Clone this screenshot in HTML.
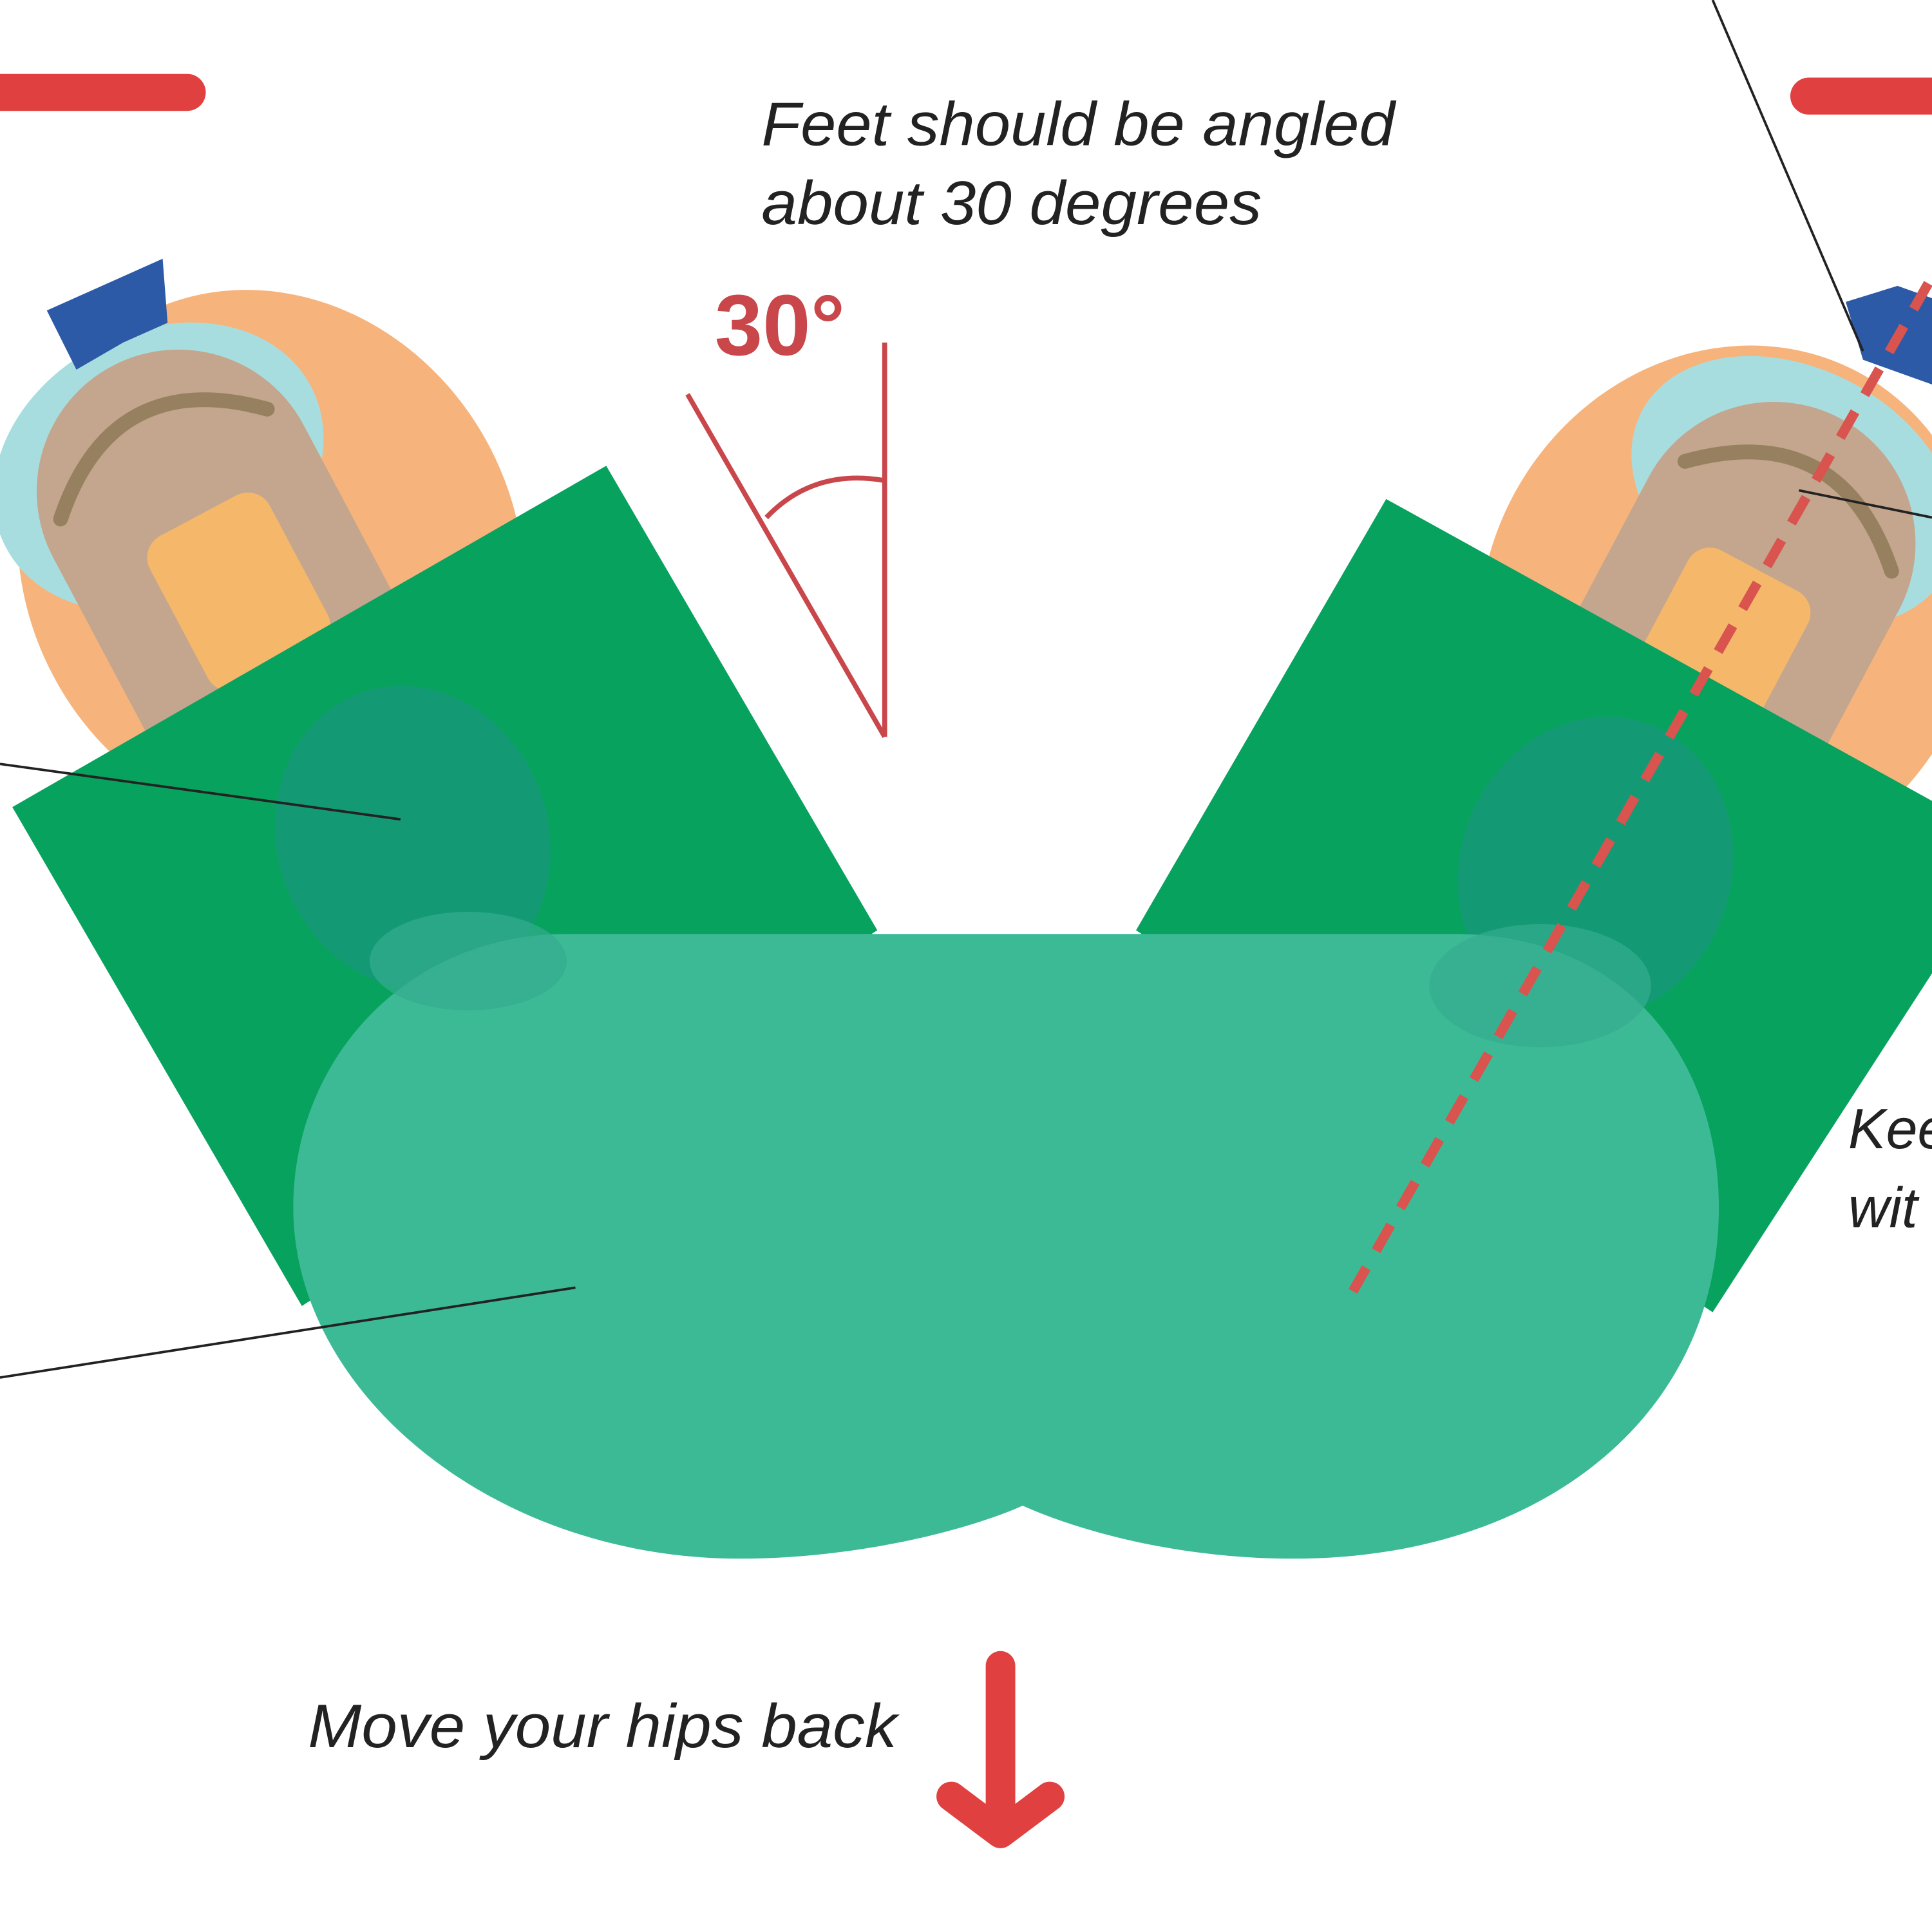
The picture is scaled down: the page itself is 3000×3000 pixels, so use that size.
<!DOCTYPE html>
<html><head><style>html,body{margin:0;padding:0;background:#fff}svg{display:block}</style></head>
<body>
<svg width="3000" height="3000" viewBox="0 0 1568 1568" xmlns="http://www.w3.org/2000/svg">
<rect width="1568" height="1568" fill="#fff"/>
<line x1="0" y1="75" x2="152" y2="75" stroke="#e0403f" stroke-width="30" stroke-linecap="round"/>
<line x1="1468" y1="78" x2="1580" y2="78" stroke="#e0403f" stroke-width="30" stroke-linecap="round"/>

<!-- left foot -->
<g transform="translate(0,25) rotate(-28 220 430)">
  <ellipse cx="220" cy="430" rx="200" ry="225" fill="#f6b47c"/>
  <ellipse cx="175" cy="320" rx="140" ry="110" fill="#a8dde0"/>
  <rect x="65" y="230" width="230" height="420" rx="115" fill="#c3a68d"/>
  <path d="M85 320 Q180 230 275 320" fill="none" stroke="#97805f" stroke-width="12" stroke-linecap="round"/>
  <rect x="130" y="370" width="110" height="140" rx="20" fill="#f5b86a"/>
  <rect x="135" y="525" width="100" height="70" rx="15" fill="#4fa85a"/>
</g>
<path d="M38 252 L132 210 L136 262 L100 278 L62 300 Z" fill="#2d5aa6"/>

<!-- right foot -->
<g transform="translate(0,45) rotate(28 1400 460)">
  <ellipse cx="1400" cy="450" rx="200" ry="220" fill="#f6b47c"/>
  <ellipse cx="1400" cy="340" rx="140" ry="100" fill="#a8dde0"/>
  <rect x="1290" y="270" width="230" height="410" rx="115" fill="#c3a68d"/>
  <path d="M1310 360 Q1405 270 1500 360" fill="none" stroke="#97805f" stroke-width="12" stroke-linecap="round"/>
  <rect x="1350" y="410" width="110" height="140" rx="20" fill="#f5b86a"/>
  <rect x="1355" y="560" width="100" height="70" rx="15" fill="#4fa85a"/>
</g>
<path d="M1498 245 L1540 232 L1568 242 L1568 312 L1512 292 Z" fill="#2d5aa6"/>

<!-- legs -->
<polygon points="10,655 492,378 712,755 245,1060" fill="#08a25f"/>
<polygon points="1125,405 1568,650 1568,790 1390,1065 922,755" fill="#08a25f"/>
<ellipse cx="335" cy="680" rx="110" ry="125" transform="rotate(-20 335 680)" fill="#17997a" opacity="0.8"/>
<ellipse cx="1295" cy="705" rx="110" ry="125" transform="rotate(20 1295 705)" fill="#17997a" opacity="0.8"/>

<!-- body -->
<path d="M460,758 L1180,758 C1320,758 1395,860 1395,980 C1395,1150 1250,1265 1050,1265 C950,1265 870,1240 830,1222 C790,1240 700,1265 600,1265 C400,1265 238,1130 238,980 C238,860 330,758 460,758 Z" fill="#3cba96"/>
<ellipse cx="380" cy="780" rx="80" ry="40" fill="#35ad8f" opacity="0.7"/>
<ellipse cx="1250" cy="800" rx="90" ry="50" fill="#35ad8f" opacity="0.7"/>

<line x1="1565" y1="230" x2="1098" y2="1048" stroke="#d9534f" stroke-width="8" stroke-dasharray="24,16"/>

<g stroke="#222" stroke-width="2" fill="none">
<line x1="1390" y1="0" x2="1512" y2="285"/>
<line x1="0" y1="620" x2="325" y2="665"/>
<line x1="0" y1="1118" x2="467" y2="1045"/>
<line x1="1460" y1="398" x2="1568" y2="420"/>
</g>

<g stroke="#c9474a" stroke-width="4" fill="none">
<line x1="718" y1="278" x2="718" y2="598"/>
<line x1="558" y1="320" x2="718" y2="598"/>
<path d="M622 420 Q660 380 718 390"/>
</g>
<text x="580" y="288" font-family="Liberation Sans, sans-serif" font-weight="bold" font-size="70" fill="#c9474a">30°</text>

<g font-family="Liberation Sans, sans-serif" font-style="italic" fill="#222">
<text x="618" y="118" font-size="50" textLength="514" lengthAdjust="spacingAndGlyphs">Feet should be angled</text>
<text x="618" y="182" font-size="50" textLength="406" lengthAdjust="spacingAndGlyphs">about 30 degrees</text>
<text x="1500" y="932" font-size="46">Kee</text>
<text x="1500" y="996" font-size="46">wit</text>
<text x="250" y="1418" font-size="50" textLength="478" lengthAdjust="spacingAndGlyphs">Move your hips back</text>
</g>

<g stroke="#e0403f" stroke-width="24" stroke-linecap="round" stroke-linejoin="round" fill="none">
<line x1="812" y1="1352" x2="812" y2="1478"/>
<polyline points="772,1458 812,1488 852,1458"/>
</g>
</svg>
</body></html>
